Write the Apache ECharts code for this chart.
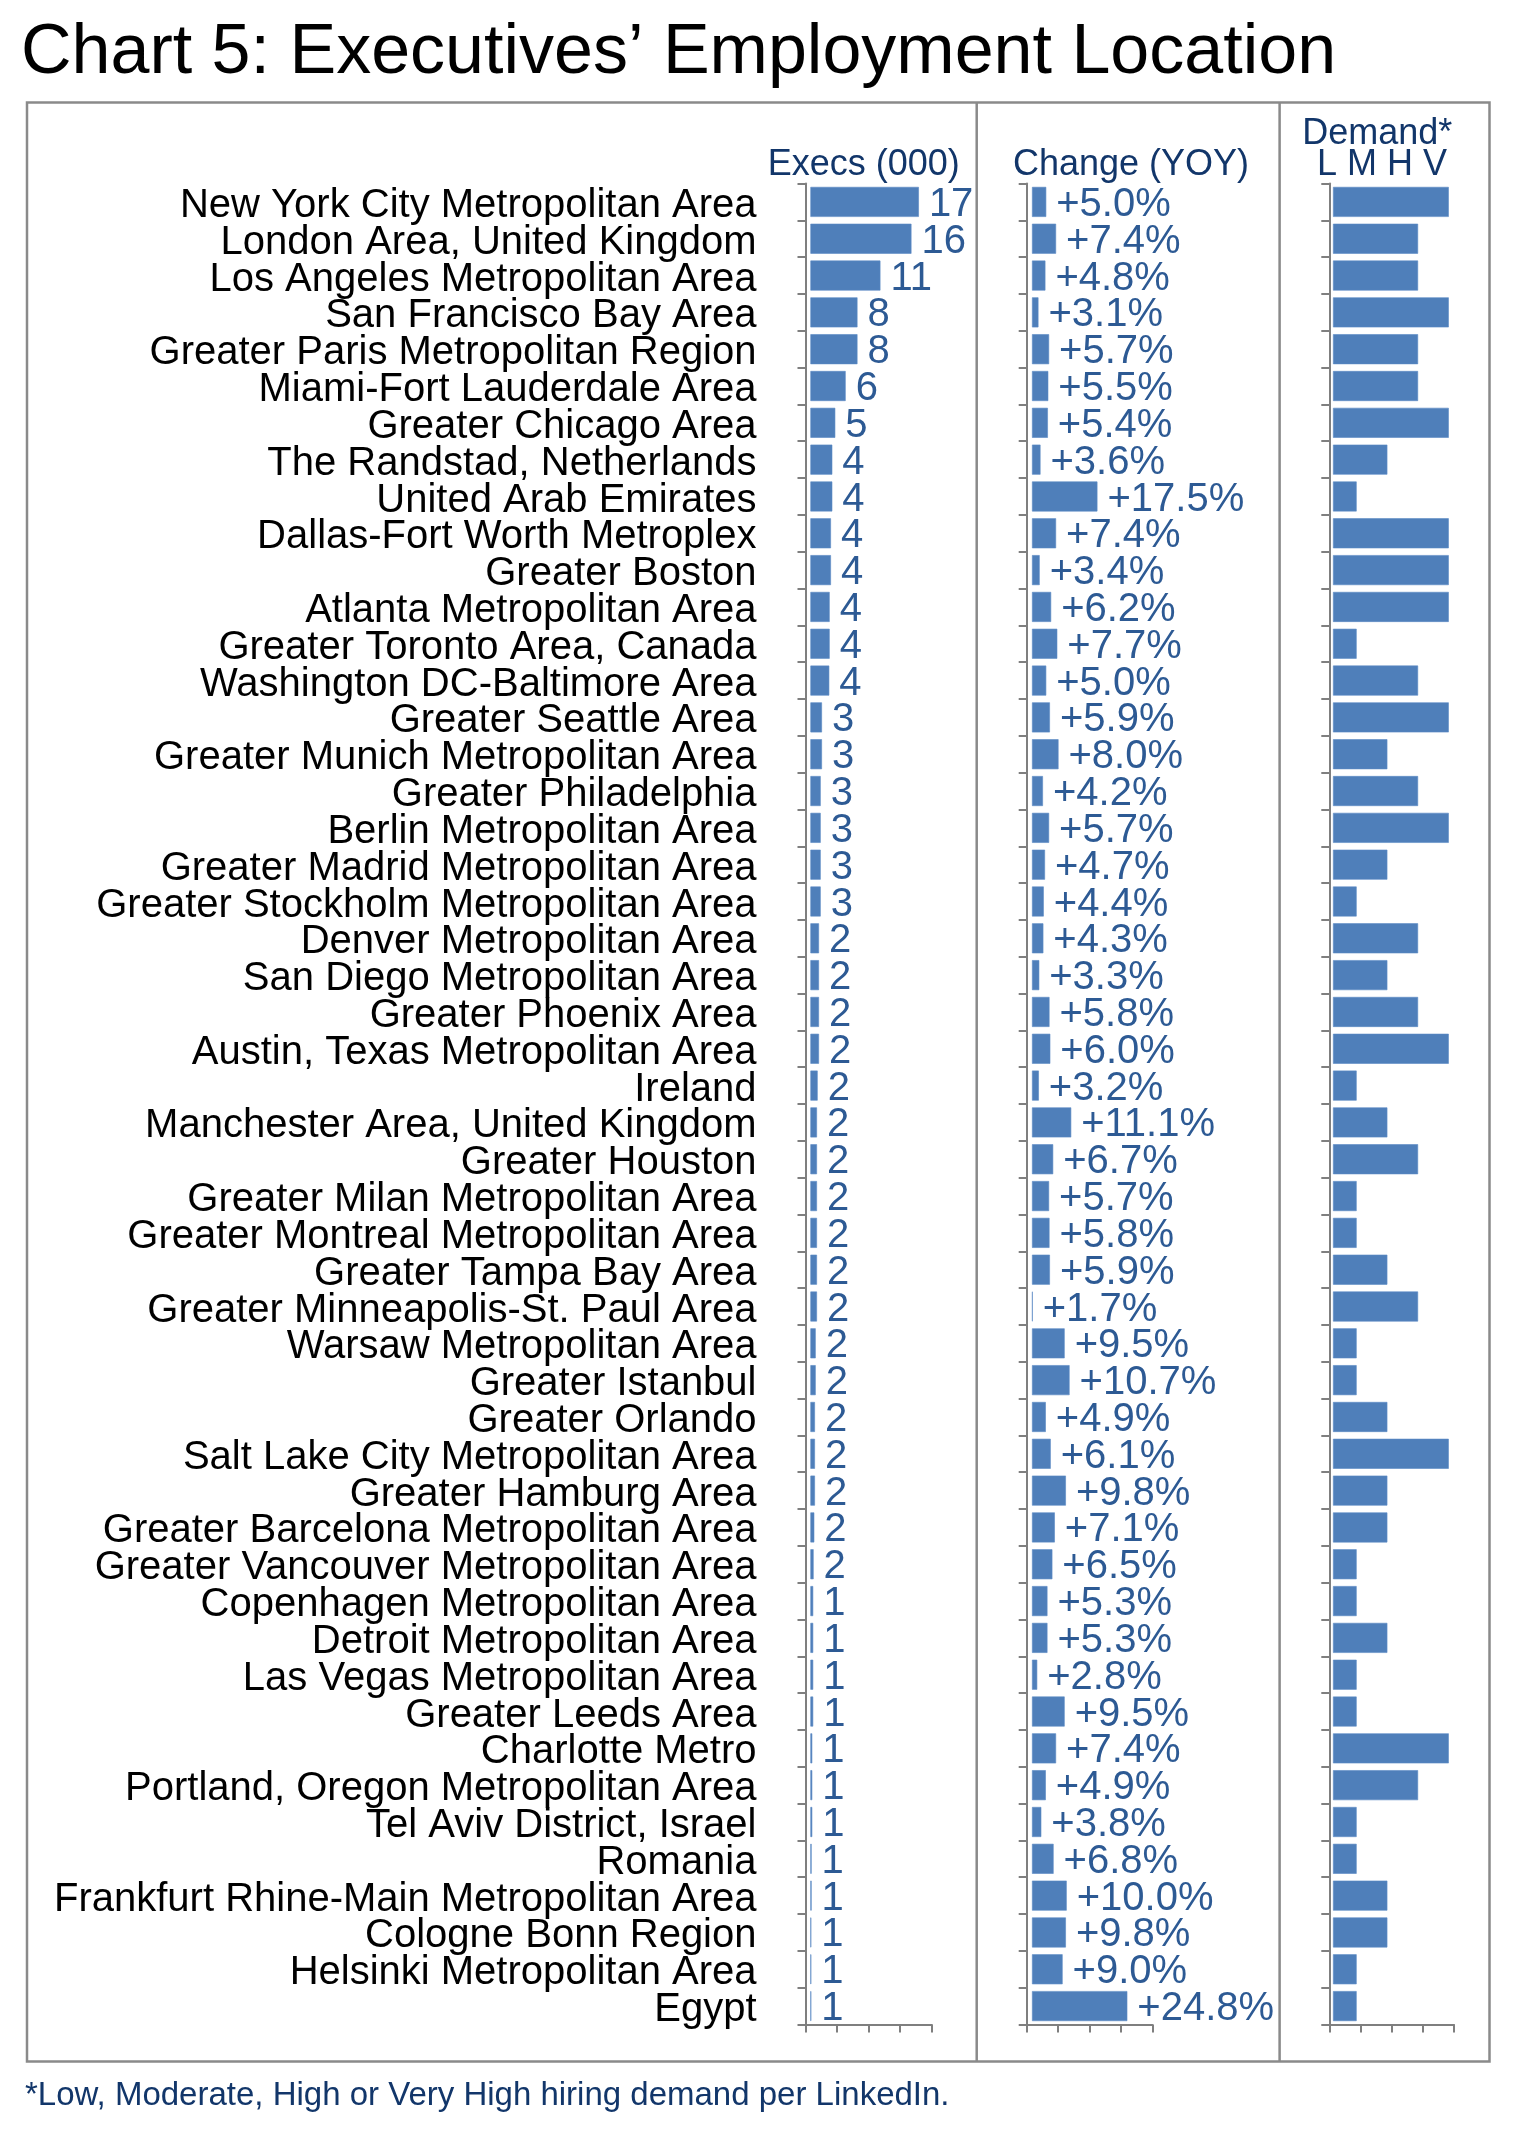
<!DOCTYPE html>
<html><head><meta charset="utf-8">
<script src="https://cdn.jsdelivr.net/npm/echarts@6/dist/echarts.min.js"></script>
<style>html,body{margin:0;padding:0;background:#fff}#c{width:1524px;height:2130px}</style>
</head><body><div id="c"></div>
<script>
const titleText = 'Chart 5: Executives\u2019 Employment Location';
const footnote = '*Low, Moderate, High or Very High hiring demand per LinkedIn.';
const panelHeaders = ['Execs (000)', 'Change (YOY)', 'Demand*'];
const demandTickLabels = ['L', 'M', 'H', 'V'];

const categories = [
  'New York City Metropolitan Area','London Area, United Kingdom','Los Angeles Metropolitan Area',
  'San Francisco Bay Area','Greater Paris Metropolitan Region','Miami-Fort Lauderdale Area',
  'Greater Chicago Area','The Randstad, Netherlands','United Arab Emirates','Dallas-Fort Worth Metroplex',
  'Greater Boston','Atlanta Metropolitan Area','Greater Toronto Area, Canada','Washington DC-Baltimore Area',
  'Greater Seattle Area','Greater Munich Metropolitan Area','Greater Philadelphia','Berlin Metropolitan Area',
  'Greater Madrid Metropolitan Area','Greater Stockholm Metropolitan Area','Denver Metropolitan Area',
  'San Diego Metropolitan Area','Greater Phoenix Area','Austin, Texas Metropolitan Area','Ireland',
  'Manchester Area, United Kingdom','Greater Houston','Greater Milan Metropolitan Area',
  'Greater Montreal Metropolitan Area','Greater Tampa Bay Area','Greater Minneapolis-St. Paul Area',
  'Warsaw Metropolitan Area','Greater Istanbul','Greater Orlando','Salt Lake City Metropolitan Area',
  'Greater Hamburg Area','Greater Barcelona Metropolitan Area','Greater Vancouver Metropolitan Area',
  'Copenhagen Metropolitan Area','Detroit Metropolitan Area','Las Vegas Metropolitan Area',
  'Greater Leeds Area','Charlotte Metro','Portland, Oregon Metropolitan Area','Tel Aviv District, Israel',
  'Romania','Frankfurt Rhine-Main Metropolitan Area','Cologne Bonn Region','Helsinki Metropolitan Area','Egypt'
];

// Executives (000), labelled rounded
const execs = [
  17.1, 16.0, 11.4, 8.0, 8.0, 6.25, 4.71, 4.27, 4.27, 4.07,
  4.07, 3.88, 3.88, 3.82, 2.74, 2.74, 2.55, 2.55, 2.55, 2.55,
  2.30, 2.30, 2.30, 2.30, 2.10, 2.0, 2.0, 2.0, 2.0, 2.0,
  2.0, 1.81, 1.81, 1.70, 1.70, 1.70, 1.60, 1.50, 1.44, 1.44,
  1.44, 1.44, 1.30, 1.30, 1.30, 1.20, 1.20, 1.15, 1.15, 1.15
];

// Change (YOY), %
const changeYoY = [
  5.0, 7.4, 4.8, 3.1, 5.7, 5.5, 5.4, 3.6, 17.5, 7.4,
  3.4, 6.2, 7.7, 5.0, 5.9, 8.0, 4.2, 5.7, 4.7, 4.4,
  4.3, 3.3, 5.8, 6.0, 3.2, 11.1, 6.7, 5.7, 5.8, 5.9,
  1.7, 9.5, 10.7, 4.9, 6.1, 9.8, 7.1, 6.5, 5.3, 5.3,
  2.8, 9.5, 7.4, 4.9, 3.8, 6.8, 10.0, 9.8, 9.0, 24.8
];

// Demand level: 1=Low, 2=Moderate, 3=High, 4=Very High
const demandLevel = [
  4, 3, 3, 4, 3, 3, 4, 2, 1, 4,
  4, 4, 1, 3, 4, 2, 3, 4, 2, 1,
  3, 2, 3, 4, 1, 2, 3, 1, 1, 2,
  3, 1, 1, 2, 4, 2, 2, 1, 1, 2,
  1, 1, 4, 3, 1, 1, 2, 2, 1, 1
];

const BAR = '#4F7FBA';
const LABEL_BLUE = '#2D5A94';
const NAVY = '#12366A';
const AXIS_GRAY = '#7f7f7f';
const FONT = "'Liberation Sans', Arial, Helvetica, sans-serif";
const TOP = 183.5, HEIGHT = 1841;

const panels = [
  { axisX: 805.5, axisR: 931.7, barL: 810.7, min: 1.07, max: 19, data: execs,
    fmt: p => String(Math.round(p.value)), showLabel: true },
  { axisX: 1026.7, axisR: 1152.3, barL: 1032.3, min: 1.6, max: 30.9, data: changeYoY,
    fmt: p => '+' + p.value.toFixed(1) + '%', showLabel: true },
  { axisX: 1329.3, axisR: 1454, barL: 1333.3, min: 0.24, max: 4.17, data: demandLevel,
    fmt: null, showLabel: false }
];

const grid = [], xAxis = [], yAxis = [], series = [];
panels.forEach((p, i) => {
  grid.push({ left: p.axisX, width: p.axisR - p.axisX, top: TOP, height: HEIGHT,
              containLabel: false, outerBoundsMode: 'none' });
  grid.push({ left: p.barL, width: p.axisR - p.barL, top: TOP, height: HEIGHT,
              containLabel: false, outerBoundsMode: 'none' });
  const gd = 2 * i, gb = 2 * i + 1;
  xAxis.push({ gridIndex: gd, type: 'value', min: 0, max: 4, interval: 1,
    axisLine: { show: true, onZero: false, lineStyle: { color: AXIS_GRAY, width: 2 } },
    axisTick: { show: true, length: 8, lineStyle: { color: AXIS_GRAY, width: 2 } },
    axisLabel: { show: false }, splitLine: { show: false } });
  xAxis.push({ gridIndex: gb, type: 'value', min: p.min, max: p.max, show: false,
    splitLine: { show: false } });
  yAxis.push({ gridIndex: gd, type: 'category', data: categories, inverse: true,
    axisLine: { show: true, onZero: false, lineStyle: { color: AXIS_GRAY, width: 2 } },
    axisTick: { show: true, length: 8, alignWithLabel: false, lineStyle: { color: AXIS_GRAY, width: 2 } },
    axisLabel: { show: false }, splitLine: { show: false } });
  yAxis.push({ gridIndex: gb, type: 'category', data: categories, inverse: true, show: false });
  series.push({
    type: 'bar', xAxisIndex: 2 * i + 1, yAxisIndex: 2 * i + 1,
    data: p.data, barWidth: 30, clip: true,
    itemStyle: { color: BAR, borderColor: '#5b8ac4', borderWidth: 0.6 },
    label: p.showLabel ? { show: true, position: 'right', distance: 10, formatter: p.fmt,
      color: LABEL_BLUE, fontSize: 40, fontFamily: FONT, offset: [0, 3] } : { show: false },
    animation: false, silent: true
  });
});

// label grid: category names (shifted slightly down to match the reference's text baseline)
grid.push({ left: panels[0].axisX, width: 20, top: TOP + 4, height: HEIGHT,
            containLabel: false, outerBoundsMode: 'none' });
xAxis.push({ gridIndex: 6, type: 'value', min: 0, max: 1, show: false });
yAxis.push({ gridIndex: 6, type: 'category', data: categories, inverse: true,
  axisLine: { show: false }, axisTick: { show: false }, splitLine: { show: false },
  axisLabel: { show: true, interval: 0, margin: 49, color: '#000', fontSize: 40,
               fontFamily: FONT, align: 'right' } });

const graphic = [
  { type: 'rect', shape: { x: 27, y: 102.5, width: 1462.5, height: 1959 },
    style: { fill: 'none', stroke: '#8a8a8a', lineWidth: 2.5 }, z: 0 },
  { type: 'line', shape: { x1: 976.7, y1: 102.5, x2: 976.7, y2: 2061.5 },
    style: { stroke: '#8a8a8a', lineWidth: 2.5 } },
  { type: 'line', shape: { x1: 1279.6, y1: 102.5, x2: 1279.6, y2: 2061.5 },
    style: { stroke: '#8a8a8a', lineWidth: 2.5 } },
  { type: 'text', x: 21, y: 54, style: { text: titleText, fontSize: 70, fontFamily: FONT,
    fill: '#000', textAlign: 'left', verticalAlign: 'middle' } },
  { type: 'text', x: 863.7, y: 165, style: { text: panelHeaders[0], fontSize: 36, fontFamily: FONT,
    fill: NAVY, textAlign: 'center', verticalAlign: 'middle' } },
  { type: 'text', x: 1131, y: 165, style: { text: panelHeaders[1], fontSize: 36, fontFamily: FONT,
    fill: NAVY, textAlign: 'center', verticalAlign: 'middle' } },
  { type: 'text', x: 1377.3, y: 134, style: { text: panelHeaders[2], fontSize: 36, fontFamily: FONT,
    fill: NAVY, textAlign: 'center', verticalAlign: 'middle' } },
  { type: 'text', x: 1382, y: 165, style: { text: demandTickLabels.join(' '), fontSize: 36, fontFamily: FONT,
    fill: NAVY, textAlign: 'center', verticalAlign: 'middle' } },
  { type: 'text', x: 25, y: 2096, style: { text: footnote, fontSize: 33, fontFamily: FONT,
    fill: NAVY, textAlign: 'left', verticalAlign: 'middle' } }
];

const chart = echarts.init(document.getElementById('c'), null, { renderer: 'canvas' });
chart.setOption({
  animation: false,
  backgroundColor: '#fff',
  grid, xAxis, yAxis, series, graphic
});
</script></body></html>
